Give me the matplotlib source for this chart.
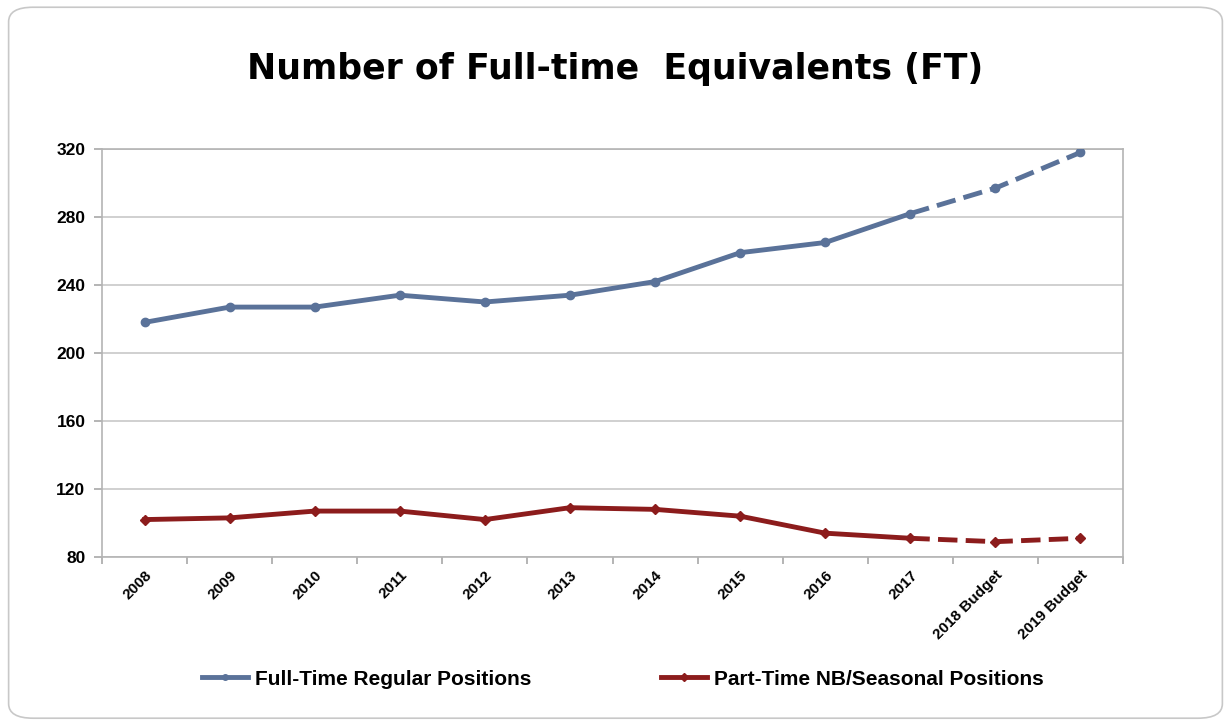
import matplotlib.pyplot as plt
from matplotlib.patches import FancyBboxPatch
from matplotlib.lines import Line2D

categories = ["2008", "2009", "2010", "2011", "2012", "2013", "2014",
              "2015", "2016", "2017", "2018 Budget", "2019 Budget"]
full_time = [218, 227, 227, 234, 230, 234, 242, 259, 265, 282, 297, 318]
part_time = [102, 103, 107, 107, 102, 109, 108, 104, 94, 91, 89, 91]
actual_count = 10  # last actual year is 2017, the rest are budget

BLUE = "#5a7299"
RED = "#8c1c1c"
NARROW = ["Liberation Sans Narrow", "Liberation Sans", "DejaVu Sans"]
DASH = (0, (4, 1.7))

fig = plt.figure(figsize=(12.31, 7.24), dpi=100)

# rounded frame around the whole chart
frame = FancyBboxPatch((0.007, 0.008), 0.986, 0.982,
                       boxstyle="round,pad=0,rounding_size=0.02",
                       transform=fig.transFigure, facecolor="none",
                       edgecolor="#c8c8c8", linewidth=1.2, zorder=-1)
fig.patches.append(frame)

ax = fig.add_axes([0.0829, 0.2307, 0.8294, 0.5635])
x = list(range(len(categories)))

# solid part (actuals) and dashed part (budget)
ax.plot(x[:actual_count], full_time[:actual_count], color=BLUE, lw=3.5,
        marker="o", ms=6, zorder=3)
ax.plot(x[actual_count - 1:], full_time[actual_count - 1:], color=BLUE, lw=3.5,
        ls=DASH, marker="o", ms=6, markevery=[1, 2], zorder=3)
ax.plot(x[:actual_count], part_time[:actual_count], color=RED, lw=3.5,
        marker="D", ms=5.5, zorder=3)
ax.plot(x[actual_count - 1:], part_time[actual_count - 1:], color=RED, lw=3.5,
        ls=DASH, marker="D", ms=5.5, markevery=[1, 2], zorder=3)

ax.set_xlim(-0.5, len(categories) - 0.5)
ax.set_ylim(80, 320)
ax.set_yticks(range(80, 321, 40))
ax.set_xticks(x)
ax.set_xticklabels(categories, rotation=45, ha="right", rotation_mode="anchor",
                   fontsize=11, fontweight="bold", family=NARROW)
for lbl in ax.get_yticklabels():
    lbl.set_fontsize(12.5)
    lbl.set_fontweight("bold")
    lbl.set_family(NARROW)
ax.set_xticks([i - 0.5 for i in x] + [len(x) - 0.5], minor=True)
ax.tick_params(axis="x", which="major", length=0, pad=8)
ax.tick_params(axis="x", which="minor", length=5, color="#a8a8a8", width=1.2)
ax.tick_params(axis="y", length=6, color="#a8a8a8", width=1.2, pad=6)

ax.grid(axis="y", color="#c8c8c8", lw=1.2)
ax.set_axisbelow(True)
for side in ["left", "bottom", "right", "top"]:
    ax.spines[side].set_color("#b4b4b4")
    ax.spines[side].set_linewidth(1.2)

fig.text(0.5, 0.905, "Number of Full-time  Equivalents (FT)", ha="center",
         va="center", fontsize=25, fontweight="heavy")

handles = [Line2D([], [], color=BLUE, lw=3.5, marker="o", ms=4),
           Line2D([], [], color=RED, lw=3.5, marker="D", ms=4)]
fig.legend(handles, ["Full-Time Regular Positions", "Part-Time NB/Seasonal Positions"],
           loc="center", bbox_to_anchor=(0.506, 0.062), ncol=2, frameon=False,
           columnspacing=6.2, handlelength=2.2, handletextpad=0.35,
           prop={"family": NARROW, "weight": "bold", "size": 15})

fig.savefig("out.png", dpi=100)
